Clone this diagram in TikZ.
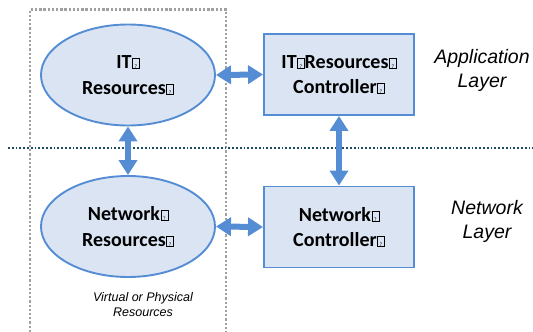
\documentclass[tikz,border=0pt]{standalone}
\usepackage{fontspec}
\setmainfont{Carlito}
\newfontfamily\labelfont{Liberation Sans}
\usetikzlibrary{shapes.geometric,arrows.meta}

\definecolor{edgeblue}{RGB}{84,141,212}
\definecolor{fillblue}{RGB}{219,228,242}
\definecolor{layerline}{RGB}{30,75,95}
\definecolor{framegray}{RGB}{160,160,160}

% placeholder glyph box printed after each word
\newcommand{\nd}{{\setlength{\fboxsep}{0pt}\setlength{\fboxrule}{0.5pt}%
  \kern0.5pt\fbox{\makebox[0.33em]{\rule{0pt}{0.48em}\fontsize{5.5}{5.5}\selectfont\mdseries ?}}}}

\tikzset{
  resource/.style={ellipse, draw=edgeblue, fill=fillblue, line width=1.9pt,
    minimum width=174pt, minimum height=101pt, inner sep=0pt, align=center,
    font=\bfseries\fontsize{20}{26}\selectfont},
  ctrlbox/.style={rectangle, draw=edgeblue, fill=fillblue, line width=1.9pt,
    minimum width=150pt, minimum height=81pt, inner sep=0pt, align=center,
    font=\bfseries\fontsize{20}{25}\selectfont},
  link/.style={draw=edgeblue, line width=6pt,
    {Triangle[width=18pt,length=15pt]}-{Triangle[width=18pt,length=15pt]}},
  layerlabel/.style={align=center, font=\labelfont\itshape\fontsize{19.5}{24}\selectfont},
  smalllabel/.style={align=center, font=\labelfont\itshape\fontsize{12.5}{15}\selectfont}
}

\begin{document}
\begin{tikzpicture}[x=1pt,y=-1pt]
\useasboundingbox (0,0) rectangle (533,332);

% frame around the resource pool
\draw[framegray, line width=2.3pt, dash pattern=on 2.3pt off 1.9pt]
  (30,332) -- (30,9.5) -- (226,9.5) -- (226,332);

% boundary between the two layers
\draw[layerline, line width=1.8pt, dash pattern=on 1.8pt off 2pt]
  (8,148.3) -- (533,148.3);

\node[resource] (itres)  at (128,75)    {IT\nd\\Resources\nd};
\node[resource] (netres) at (128,226.5) {Network\nd\\Resources\nd};
\node[ctrlbox]  (itctl)  at (339,74.5)  {IT\nd Resources\nd\\Controller\nd};
\node[ctrlbox]  (netctl) at (339,227)   {Network\nd\\Controller\nd};

\draw[link] (itres.east) -- (itctl.west);
\draw[link] (netres.east) -- (netctl.west);
\draw[link] (itres.south) -- (netres.north);
\draw[link] (itctl.south) -- (netctl.north);

\node[layerlabel] (applayer) at (482,70)  {Application\\Layer};
\node[layerlabel] (netlayer) at (487,221) {Network\\Layer};
\node[smalllabel] (pool)     at (143,305) {Virtual or Physical\\Resources};
\end{tikzpicture}
\end{document}
